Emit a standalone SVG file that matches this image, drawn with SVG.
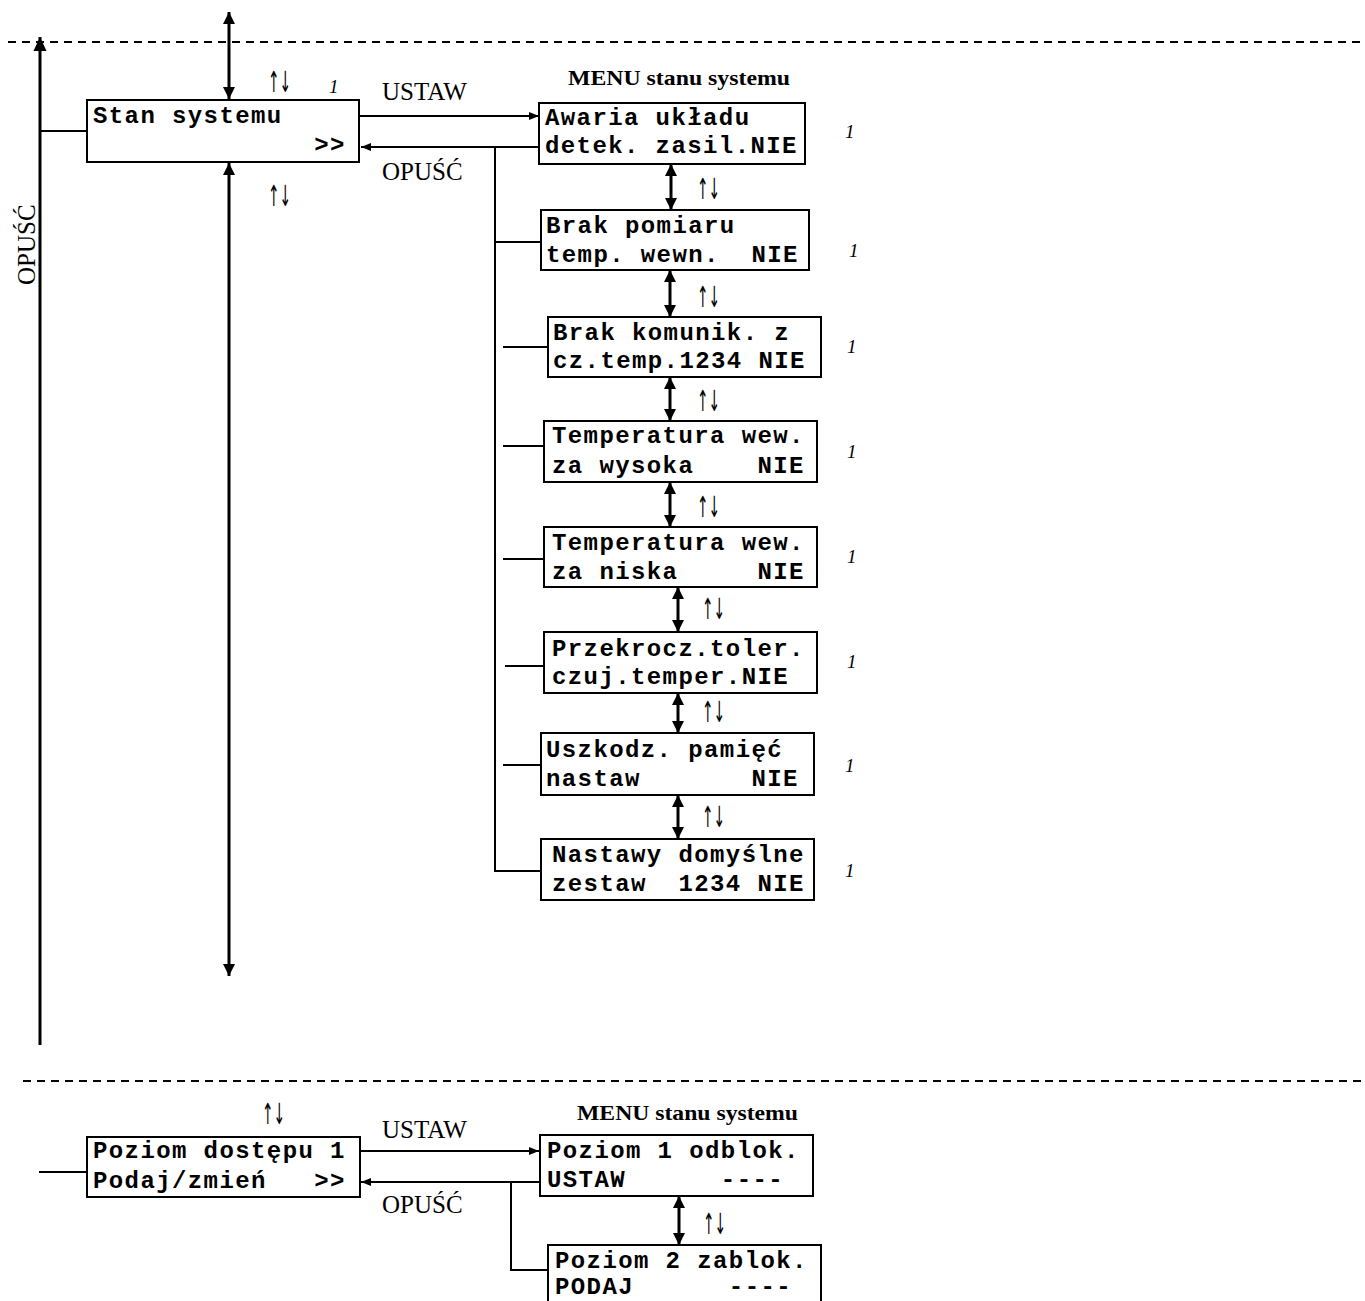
<svg xmlns="http://www.w3.org/2000/svg" width="1365" height="1301" viewBox="0 0 1365 1301">
<style>
.bx{fill:#fff;stroke:#000;stroke-width:2}
.m{font-family:"Liberation Mono","Courier New",monospace;font-weight:bold;font-size:24px;letter-spacing:1.4px;fill:#000;white-space:pre}
.t{font-family:"Liberation Serif","Times New Roman",serif;font-size:25px;fill:#000}
.h{font-family:"Liberation Serif","Times New Roman",serif;font-size:21px;font-weight:bold;fill:#000}
.ud{font-family:"DejaVu Sans","Noto Sans",sans-serif;font-size:29px;font-weight:normal;fill:#000}
.one{font-family:"Liberation Serif","Times New Roman",serif;font-size:19px;font-style:italic;fill:#000}
.ln{fill:none;stroke:#000;stroke-width:2}
.ar{fill:none;stroke:#000;stroke-width:3}
.da{fill:none;stroke:#000;stroke-width:2;stroke-dasharray:8 6}
</style>
<defs>
<marker id="big" markerUnits="userSpaceOnUse" markerWidth="14" markerHeight="16" refX="15" refY="7" viewBox="0 0 15 14" orient="auto-start-reverse"><path d="M0,0 L15,7 L0,14 z" fill="#000"/></marker>
<marker id="med" markerUnits="userSpaceOnUse" markerWidth="12" markerHeight="12" refX="12" refY="6" viewBox="0 0 12 12" orient="auto-start-reverse"><path d="M0,0 L12,6 L0,12 z" fill="#000"/></marker>
<marker id="sm" markerUnits="userSpaceOnUse" markerWidth="10" markerHeight="8" refX="10" refY="4" viewBox="0 0 10 8" orient="auto-start-reverse"><path d="M0,0 L10,4 L0,8 z" fill="#000"/></marker>
</defs>
<rect width="1365" height="1301" fill="#fff"/>

<g id="separators">
<line class="da" x1="8" y1="42" x2="1365" y2="42"/>
<line class="da" x1="23" y1="1081" x2="1365" y2="1081"/>
</g>

<g id="connectors">
<line class="ar" x1="40" y1="1045" x2="40" y2="37" marker-end="url(#big)"/>
<line class="ar" x1="229" y1="12" x2="229" y2="99" marker-start="url(#med)" marker-end="url(#med)"/>
<line class="ar" x1="229" y1="163" x2="229" y2="976" marker-start="url(#med)" marker-end="url(#med)"/>
<line class="ln" x1="40" y1="131" x2="87" y2="131"/>
<line class="ln" x1="359" y1="116" x2="539" y2="116" marker-end="url(#sm)"/>
<line class="ln" x1="539" y1="147" x2="361" y2="147" marker-end="url(#sm)"/>
<path class="ln" d="M495,147 V871 H541"/>
<line class="ln" x1="495" y1="242" x2="541" y2="242"/>
<line class="ln" x1="503" y1="347" x2="548" y2="347"/>
<line class="ln" x1="503" y1="446" x2="544" y2="446"/>
<line class="ln" x1="503" y1="559" x2="544" y2="559"/>
<line class="ln" x1="505" y1="666" x2="544" y2="666"/>
<line class="ln" x1="503" y1="765" x2="541" y2="765"/>
<line class="ar" x1="671" y1="164" x2="671" y2="210" marker-start="url(#med)" marker-end="url(#med)"/>
<line class="ar" x1="670" y1="270" x2="670" y2="317" marker-start="url(#med)" marker-end="url(#med)"/>
<line class="ar" x1="670" y1="377" x2="670" y2="421" marker-start="url(#med)" marker-end="url(#med)"/>
<line class="ar" x1="670" y1="482" x2="670" y2="527" marker-start="url(#med)" marker-end="url(#med)"/>
<line class="ar" x1="678" y1="587" x2="678" y2="632" marker-start="url(#med)" marker-end="url(#med)"/>
<line class="ar" x1="678" y1="693" x2="678" y2="733" marker-start="url(#med)" marker-end="url(#med)"/>
<line class="ar" x1="678" y1="795" x2="678" y2="839" marker-start="url(#med)" marker-end="url(#med)"/>
<line class="ln" x1="39" y1="1172" x2="87" y2="1172"/>
<line class="ln" x1="360" y1="1151" x2="539" y2="1151" marker-end="url(#sm)"/>
<line class="ln" x1="540" y1="1182" x2="361" y2="1182" marker-end="url(#sm)"/>
<path class="ln" d="M511,1182 V1270 H548"/>
<line class="ar" x1="679" y1="1196" x2="679" y2="1245" marker-start="url(#med)" marker-end="url(#med)"/>
</g>

<g id="labels">
<text class="t" x="382" y="100">USTAW</text>
<text class="t" x="382" y="180">OPUŚĆ</text>
<text class="t" transform="translate(35,285) rotate(-90)">OPUŚĆ</text>
<text class="h" x="568" y="85" textLength="222" lengthAdjust="spacingAndGlyphs">MENU stanu systemu</text>
<text class="ud" x="268" y="92" textLength="23" lengthAdjust="spacingAndGlyphs">↑↓</text>
<text class="ud" x="268" y="206" textLength="23" lengthAdjust="spacingAndGlyphs">↑↓</text>
<text class="one" x="329" y="93">1</text>
<text class="ud" x="697" y="199" textLength="23" lengthAdjust="spacingAndGlyphs">↑↓</text>
<text class="ud" x="697" y="307" textLength="23" lengthAdjust="spacingAndGlyphs">↑↓</text>
<text class="ud" x="697" y="411" textLength="23" lengthAdjust="spacingAndGlyphs">↑↓</text>
<text class="ud" x="697" y="517" textLength="23" lengthAdjust="spacingAndGlyphs">↑↓</text>
<text class="ud" x="702" y="619" textLength="23" lengthAdjust="spacingAndGlyphs">↑↓</text>
<text class="ud" x="702" y="722" textLength="23" lengthAdjust="spacingAndGlyphs">↑↓</text>
<text class="ud" x="702" y="827" textLength="23" lengthAdjust="spacingAndGlyphs">↑↓</text>
<text class="one" x="845" y="138">1</text>
<text class="one" x="849" y="257">1</text>
<text class="one" x="847" y="353">1</text>
<text class="one" x="847" y="458">1</text>
<text class="one" x="847" y="563">1</text>
<text class="one" x="847" y="668">1</text>
<text class="one" x="845" y="772">1</text>
<text class="one" x="845" y="877">1</text>
<text class="t" x="382" y="1138">USTAW</text>
<text class="t" x="382" y="1213">OPUŚĆ</text>
<text class="h" x="577" y="1120" textLength="221" lengthAdjust="spacingAndGlyphs">MENU stanu systemu</text>
<text class="ud" x="262" y="1124" textLength="23" lengthAdjust="spacingAndGlyphs">↑↓</text>
<text class="ud" x="703" y="1234" textLength="23" lengthAdjust="spacingAndGlyphs">↑↓</text>
</g>

<g id="stan-systemu">
<rect class="bx" x="87" y="100" width="272" height="62"/>
<text class="m" x="93" y="123" xml:space="preserve">Stan systemu</text>
<text class="m" x="93" y="152" xml:space="preserve">              &gt;&gt;</text>
</g>
<g id="awaria">
<rect class="bx" x="539" y="103" width="266" height="61"/>
<text class="m" x="545" y="125" xml:space="preserve">Awaria układu</text>
<text class="m" x="545" y="153" xml:space="preserve">detek. zasil.NIE</text>
</g>
<g id="brak-pomiaru">
<rect class="bx" x="541" y="210" width="268" height="60"/>
<text class="m" x="546" y="233" xml:space="preserve">Brak pomiaru</text>
<text class="m" x="546" y="262" xml:space="preserve">temp. wewn.  NIE</text>
</g>
<g id="brak-komunik">
<rect class="bx" x="548" y="317" width="273" height="60"/>
<text class="m" x="553" y="340" xml:space="preserve">Brak komunik. z</text>
<text class="m" x="553" y="368" xml:space="preserve">cz.temp.1234 NIE</text>
</g>
<g id="temp-wysoka">
<rect class="bx" x="544" y="421" width="273" height="61"/>
<text class="m" x="552" y="443" xml:space="preserve">Temperatura wew.</text>
<text class="m" x="552" y="473" xml:space="preserve">za wysoka    NIE</text>
</g>
<g id="temp-niska">
<rect class="bx" x="544" y="527" width="273" height="60"/>
<text class="m" x="552" y="550" xml:space="preserve">Temperatura wew.</text>
<text class="m" x="552" y="579" xml:space="preserve">za niska     NIE</text>
</g>
<g id="przekrocz">
<rect class="bx" x="544" y="632" width="273" height="61"/>
<text class="m" x="552" y="656" xml:space="preserve">Przekrocz.toler.</text>
<text class="m" x="552" y="684" xml:space="preserve">czuj.temper.NIE</text>
</g>
<g id="uszkodz">
<rect class="bx" x="541" y="733" width="273" height="62"/>
<text class="m" x="546" y="757" xml:space="preserve">Uszkodz. pamięć</text>
<text class="m" x="546" y="786" xml:space="preserve">nastaw       NIE</text>
</g>
<g id="nastawy">
<rect class="bx" x="541" y="839" width="273" height="61"/>
<text class="m" x="552" y="862" xml:space="preserve">Nastawy domyślne</text>
<text class="m" x="552" y="891" xml:space="preserve">zestaw  1234 NIE</text>
</g>
<g id="poziom-dostepu">
<rect class="bx" x="87" y="1137" width="273" height="60"/>
<text class="m" x="93" y="1158" xml:space="preserve">Poziom dostępu 1</text>
<text class="m" x="93" y="1188" xml:space="preserve">Podaj/zmień   &gt;&gt;</text>
</g>
<g id="poziom-1">
<rect class="bx" x="540" y="1135" width="273" height="61"/>
<text class="m" x="547" y="1158" xml:space="preserve">Poziom 1 odblok.</text>
<text class="m" x="547" y="1187" xml:space="preserve">USTAW      ----</text>
</g>
<g id="poziom-2">
<rect class="bx" x="548" y="1245" width="273" height="62"/>
<text class="m" x="555" y="1268" xml:space="preserve">Poziom 2 zablok.</text>
<text class="m" x="555" y="1294" xml:space="preserve">PODAJ      ----</text>
</g>
</svg>
